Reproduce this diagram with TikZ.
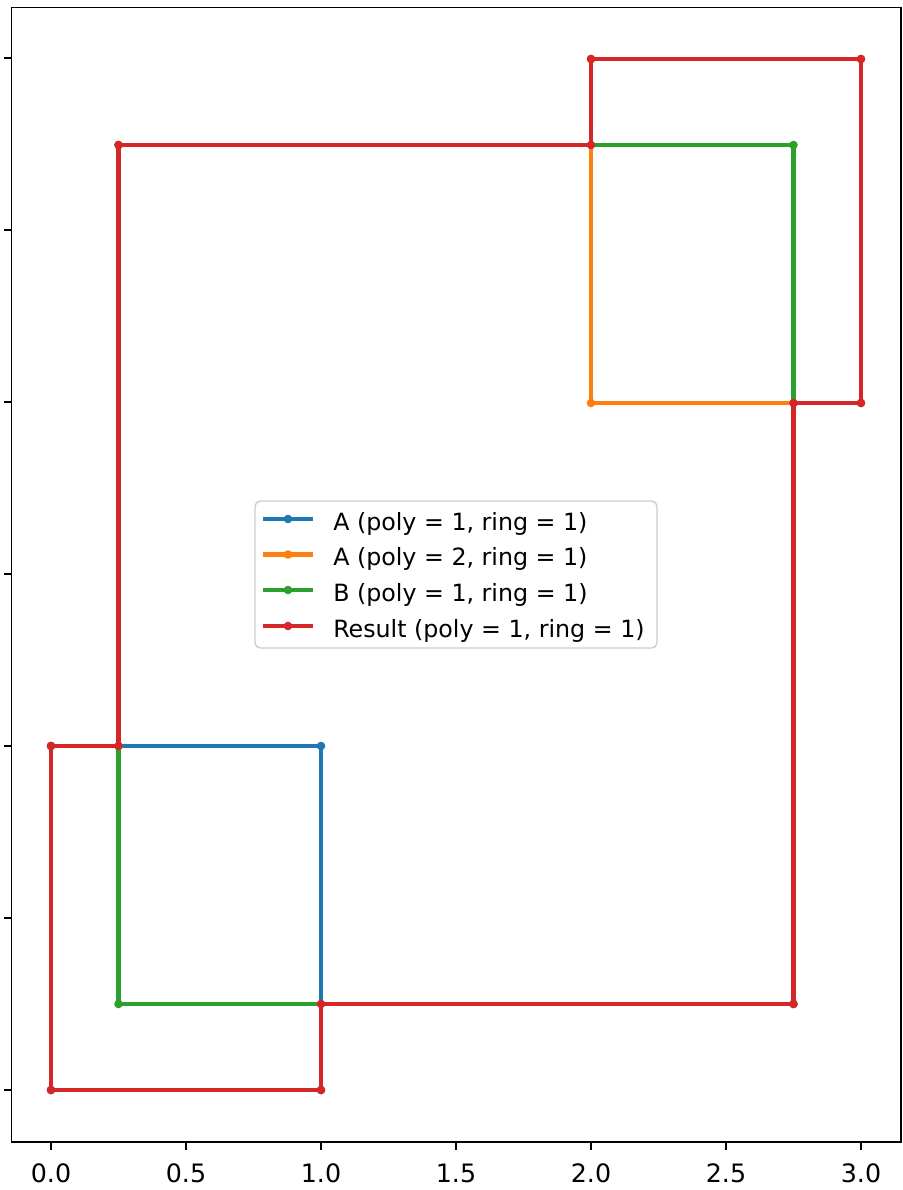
\documentclass[tikz,border=0pt]{standalone}
\usepackage{fontspec}
\setmainfont{DejaVu Sans}
\definecolor{tblue}{HTML}{1F77B4}
\definecolor{torange}{HTML}{FF7F0E}
\definecolor{tgreen}{HTML}{2CA02C}
\definecolor{tred}{HTML}{D62728}
\tikzset{
  ring/.style={line width=3.2pt, line join=miter},
  tick/.style={line width=0.9pt},
  ticklabel/.style={anchor=base, inner sep=0pt, font=\fontsize{19pt}{22pt}\selectfont},
  legtext/.style={anchor=base west, inner sep=0pt, font=\fontsize{17.8pt}{20pt}\selectfont},
}
\newcommand{\dotsat}[2]{\foreach \p in {#2} {\fill[#1] \p circle (4.3);}}
\begin{document}
\begin{tikzpicture}[x=0.75pt,y=-0.75pt]
\useasboundingbox (0,0) rectangle (903,1190);
% data: X = 51 + 270 x ; Y = 1090 - 344 y
% A poly 1: (0,0)-(1,1)
\draw[ring,tblue] (51,1090) -- (321,1090) -- (321,746) -- (51,746) -- cycle;
\dotsat{tblue}{(51,1090),(321,1090),(321,746),(51,746)}
% A poly 2: (2,2)-(3,3)
\draw[ring,torange] (591,403) -- (861,403) -- (861,59) -- (591,59) -- cycle;
\dotsat{torange}{(591,403),(861,403),(861,59),(591,59)}
% B: (0.25,0.25)-(2.75,2.75)
\draw[ring,tgreen] (118.5,1004) -- (793.5,1004) -- (793.5,145) -- (118.5,145) -- cycle;
\dotsat{tgreen}{(118.5,1004),(793.5,1004),(793.5,145),(118.5,145)}
% Result
\draw[ring,tred] (51,1090) -- (321,1090) -- (321,1004) -- (793.5,1004) -- (793.5,403) -- (861,403) -- (861,59) -- (591,59) -- (591,145) -- (118.5,145) -- (118.5,746) -- (51,746) -- cycle;
\dotsat{tred}{(51,1090),(321,1090),(321,1004),(793.5,1004),(793.5,403),(861,403),(861,59),(591,59),(591,145),(118.5,145),(118.5,746),(51,746)}
% axes frame
\draw[line width=1.2pt] (11.5,7.5) rectangle (901,1142);
% x ticks
\foreach \v/\t in {0/0.0,1/0.5,2/1.0,3/1.5,4/2.0,5/2.5,6/3.0} {
  \draw[tick] (51+135*\v,1142) -- (51+135*\v,1149.5);
  \node[ticklabel] (xl\v) at (51+135*\v,1182) {\t};
}
% y ticks
\foreach \v in {0,...,6} {
  \draw[tick] (11.5,1090-172*\v) -- (4,1090-172*\v);
}
% legend
\draw[fill=white, fill opacity=0.8, draw=black!20, line width=1pt, rounded corners=4] (255,501) rectangle (657,648);
\foreach \c/\yy/\txt [count=\i] in {tblue/519/{A (poly = 1, ring = 1)},torange/554.5/{A (poly = 2, ring = 1)},tgreen/590/{B (poly = 1, ring = 1)},tred/626/{Result (poly = 1, ring = 1)}} {
  \draw[ring,\c] (263,\yy) -- (313,\yy);
  \fill[\c] (288,\yy) circle (4.3);
  \node[legtext] (leg\i) at (333,\yy+11) {\txt};
}
\end{tikzpicture}
\end{document}
